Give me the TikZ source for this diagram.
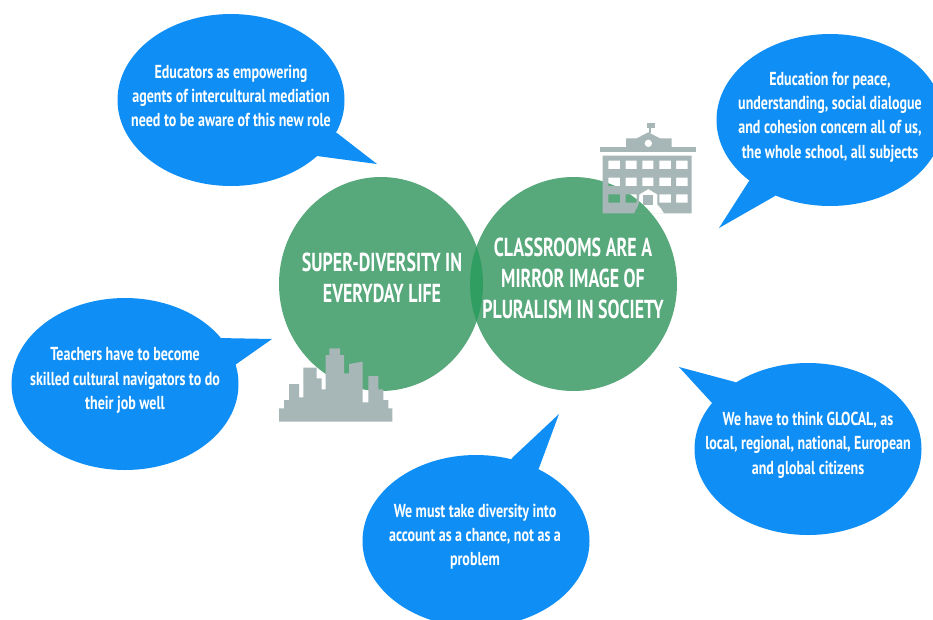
\documentclass[tikz,border=0pt]{standalone}
\usepackage{fontspec}
\setmainfont{PT Sans}
\newfontfamily\bubblefont[FakeStretch=0.745]{PT Sans Bold}
\newfontfamily\circlefont[FakeStretch=0.69]{PT Sans}
\usetikzlibrary{shapes.geometric}
\definecolor{bubbleblue}{HTML}{0F8EF5}
\definecolor{circlegreen}{HTML}{57A87B}
\definecolor{lensgreen}{HTML}{2F9E60}
\definecolor{icongrey}{HTML}{A7B6B6}
\tikzset{
  bubble/.style={ellipse,fill=bubbleblue,inner sep=0pt,minimum width=227pt,minimum height=172pt},
  tail/.style={fill=bubbleblue},
  bubbletext/.style={text=white,align=center,inner sep=0pt,font=\bubblefont\fontsize{18.8}{24.3}\selectfont},
  circletext/.style={text=white,align=center,inner sep=0pt,font=\circlefont\bfseries\fontsize{26}{31}\selectfont},
  icon/.style={fill=icongrey,draw=none,even odd rule}
}
\begin{document}
\begin{tikzpicture}[x=1pt,y=-1pt]
\clip (0,0) rectangle (933,619);
\fill[white] (0,0) rectangle (933,619);
% circles
\fill[circlegreen] (381,284) ellipse [x radius=102,y radius=107];
\fill[circlegreen] (573.5,284) ellipse [x radius=103.5,y radius=107];
\begin{scope}
\clip (381,284) ellipse [x radius=102,y radius=107];
\fill[lensgreen] (573.5,284) ellipse [x radius=103.5,y radius=107];
\end{scope}
% school icon
\begin{scope}[shift={(590,115)},scale=1/3]
\fill[icon]
  (38,122) rectangle (305,295)
  (55,137) rectangle (90,162) (107,137) rectangle (140,162) (157,137) rectangle (190,162) (208,137) rectangle (243,162) (258,137) rectangle (293,162)
  (55,188) rectangle (90,213) (107,188) rectangle (140,213) (157,188) rectangle (190,213) (208,188) rectangle (243,213) (258,188) rectangle (293,213)
  (55,238) rectangle (90,263) (107,238) rectangle (140,263) (208,238) rectangle (243,263) (258,238) rectangle (293,263)
  (148,238) -- (175,222) -- (202,238) -- (202,268) -- (213,280) -- (222,295) -- (132,295) -- (146,268) -- cycle;
\fill[icon] (160,240) rectangle (190,270);
\fill[icon] (30,97) rectangle (318,112);
\fill[icon] (108,97) -- (108,70) -- (140,70) -- (175,52) -- (210,70) -- (245,70) -- (245,97) -- cycle;
\fill[white] (175,85) circle (11);
\fill[icon] (178,25) rectangle (182,55);
\fill[icon] (172,25) rectangle (195,38);
\end{scope}
% skyline icon
\begin{scope}[shift={(270,340)},scale=1/3]
\fill[icon] (27,245) -- (27,205) -- (42,205) -- (42,180) -- (57,180) -- (57,132) -- (87,132) -- (87,172) -- (100,172) -- (100,83) -- (140,83) -- (140,115) -- (155,115) -- (155,148) -- (167,148) -- (167,45) -- (178,45) -- (178,25) -- (210,25) -- (210,45) -- (222,45) -- (222,100) -- (237,100) -- (237,72) -- (278,65) -- (278,187) -- (295,187) -- (295,108) -- (325,108) -- (325,148) -- (340,148) -- (340,180) -- (355,180) -- (355,205) -- (367,205) -- (367,245) -- cycle;
\end{scope}
% bubbles
\node[bubble] (b1) at (231,100) {};
\coordinate (t1a) at (337,133); \coordinate (t1b) at (377,164); \coordinate (t1c) at (317,156);
\fill[tail] (t1a) -- (t1b) -- (t1c) -- (b1.center) -- cycle;
\node[bubble] (b2) at (830,120) {};
\coordinate (t2a) at (749,181); \coordinate (t2b) at (719,228); \coordinate (t2c) at (775,196);
\fill[tail] (t2a) -- (t2b) -- (t2c) -- (b2.center) -- cycle;
\node[bubble] (b3) at (125,384) {};
\coordinate (t3a) at (218,338); \coordinate (t3b) at (272,339); \coordinate (t3c) at (235,365);
\fill[tail] (t3a) -- (t3b) -- (t3c) -- (b3.center) -- cycle;
\node[bubble] (b4) at (808,449) {};
\coordinate (t4a) at (735,382); \coordinate (t4b) at (679,367); \coordinate (t4c) at (712,403);
\fill[tail] (t4a) -- (t4b) -- (t4c) -- (b4.center) -- cycle;
\node[bubble] (b5) at (476,541) {};
\coordinate (t5a) at (512,458); \coordinate (t5b) at (559,414); \coordinate (t5c) at (539,468);
\fill[tail] (t5a) -- (t5b) -- (t5c) -- (b5.center) -- cycle;
% texts
\node[bubbletext] (l1) at (231,96) {Educators as empowering\\agents of intercultural mediation\\need to be aware of this new role};
\node[bubbletext] (l2) at (830,117) {Education for peace,\\understanding, social dialogue\\and cohesion concern all of us,\\the whole school, all subjects};
\node[bubbletext] (l3) at (125,380.5) {Teachers have to become\\skilled cultural navigators to do\\their job well};
\node[bubbletext] (l4) at (808,445) {We have to think GLOCAL, as\\local, regional, national, European\\and global citizens};
\node[bubbletext] (l5) at (475,536.5) {We must take diversity into\\account as a chance, not as a\\problem};
\node[circletext] (c1) at (382,277.5) {SUPER-DIVERSITY IN\\EVERYDAY LIFE};
\node[circletext] (c2) at (573,278) {CLASSROOMS ARE A\\MIRROR IMAGE OF\\PLURALISM IN SOCIETY};
\end{tikzpicture}
\end{document}
